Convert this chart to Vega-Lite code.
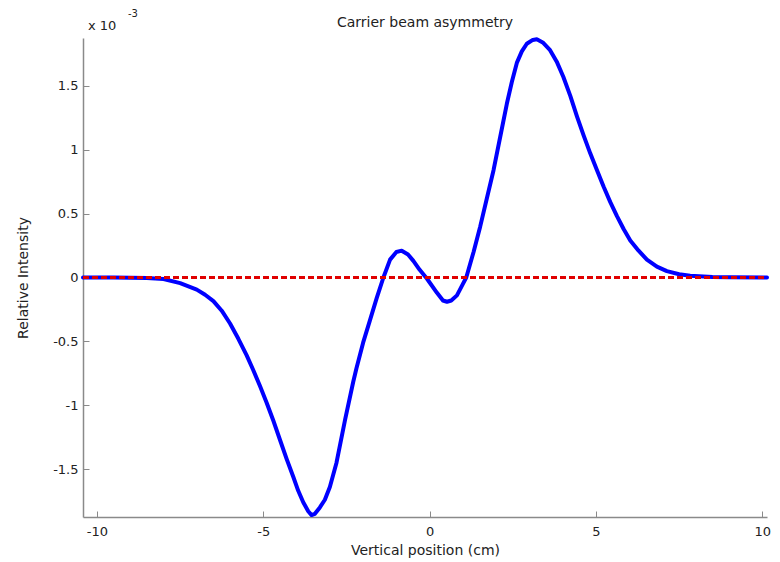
{
  "$schema": "https://vega.github.io/schema/vega-lite/v6.json",
  "width": 684,
  "height": 479,
  "autosize": {"type": "none"},
  "padding": {"left": 83, "top": 38, "right": 13, "bottom": 45},
  "background": "white",
  "config": {
    "view": {"stroke": null},
    "font": "DejaVu Sans",
    "axis": {
      "grid": false,
      "domainColor": "#8a8a8a",
      "domainWidth": 1.5,
      "tickColor": "#8a8a8a",
      "tickWidth": 1,
      "tickSize": -6,
      "labelFont": "DejaVu Sans",
      "labelFontSize": 13,
      "labelColor": "#222222",
      "titleFont": "DejaVu Sans",
      "titleFontSize": 14,
      "titleFontWeight": "normal",
      "titleColor": "#222222"
    }
  },
  "title": {
    "text": "Carrier beam asymmetry",
    "font": "DejaVu Sans",
    "fontSize": 14,
    "fontWeight": "normal",
    "color": "#222222",
    "anchor": "middle",
    "offset": -21
  },
  "datasets": {
    "signal": [
      {"x": -10.42, "y": 0}, {"x": -9.5, "y": 0}, {"x": -9.0, "y": -0.001}, {"x": -8.5, "y": -0.004},
      {"x": -8.0, "y": -0.012}, {"x": -7.5, "y": -0.044}, {"x": -7.0, "y": -0.095}, {"x": -6.75, "y": -0.135},
      {"x": -6.5, "y": -0.185}, {"x": -6.25, "y": -0.26}, {"x": -6.0, "y": -0.36}, {"x": -5.75, "y": -0.48},
      {"x": -5.5, "y": -0.61}, {"x": -5.31, "y": -0.72}, {"x": -5.1, "y": -0.85}, {"x": -4.9, "y": -0.98},
      {"x": -4.7, "y": -1.12}, {"x": -4.5, "y": -1.27}, {"x": -4.3, "y": -1.42}, {"x": -4.1, "y": -1.56},
      {"x": -3.95, "y": -1.67}, {"x": -3.8, "y": -1.76}, {"x": -3.65, "y": -1.83}, {"x": -3.55, "y": -1.86},
      {"x": -3.45, "y": -1.85}, {"x": -3.3, "y": -1.8}, {"x": -3.15, "y": -1.74}, {"x": -3.0, "y": -1.64},
      {"x": -2.8, "y": -1.45}, {"x": -2.54, "y": -1.11}, {"x": -2.3, "y": -0.82}, {"x": -2.2, "y": -0.71},
      {"x": -2.0, "y": -0.51}, {"x": -1.8, "y": -0.34}, {"x": -1.59, "y": -0.16}, {"x": -1.39, "y": 0},
      {"x": -1.19, "y": 0.14}, {"x": -1.0, "y": 0.2}, {"x": -0.84, "y": 0.21}, {"x": -0.65, "y": 0.18},
      {"x": -0.49, "y": 0.13}, {"x": -0.3, "y": 0.06}, {"x": -0.08, "y": -0.01}, {"x": 0.22, "y": -0.12},
      {"x": 0.4, "y": -0.18}, {"x": 0.52, "y": -0.19}, {"x": 0.65, "y": -0.18}, {"x": 0.82, "y": -0.14},
      {"x": 1.0, "y": -0.05}, {"x": 1.1, "y": 0.0}, {"x": 1.32, "y": 0.2}, {"x": 1.52, "y": 0.4},
      {"x": 1.72, "y": 0.62}, {"x": 1.92, "y": 0.84}, {"x": 2.12, "y": 1.1}, {"x": 2.32, "y": 1.36},
      {"x": 2.47, "y": 1.53}, {"x": 2.62, "y": 1.68}, {"x": 2.77, "y": 1.77}, {"x": 2.92, "y": 1.83},
      {"x": 3.1, "y": 1.86}, {"x": 3.22, "y": 1.865}, {"x": 3.4, "y": 1.84}, {"x": 3.62, "y": 1.78},
      {"x": 3.82, "y": 1.69}, {"x": 4.02, "y": 1.57}, {"x": 4.23, "y": 1.42}, {"x": 4.43, "y": 1.26},
      {"x": 4.63, "y": 1.11}, {"x": 4.83, "y": 0.97}, {"x": 5.03, "y": 0.84}, {"x": 5.23, "y": 0.71},
      {"x": 5.43, "y": 0.59}, {"x": 5.63, "y": 0.48}, {"x": 5.83, "y": 0.38}, {"x": 6.03, "y": 0.29},
      {"x": 6.28, "y": 0.21}, {"x": 6.53, "y": 0.14}, {"x": 6.83, "y": 0.085}, {"x": 7.13, "y": 0.05},
      {"x": 7.5, "y": 0.025}, {"x": 7.83, "y": 0.013}, {"x": 8.5, "y": 0.003}, {"x": 9.0, "y": 0.001},
      {"x": 10.14, "y": 0}
    ],
    "reference": [
      {"x": -10.42, "y": 0}, {"x": 10.14, "y": 0}
    ],
    "scale_note": [
      {"x": -10.42, "y": 1.875, "base": "x 10", "exp": "-3"}
    ]
  },
  "layer": [
    {
      "data": {"name": "signal"},
      "mark": {"type": "line", "color": "#0000ff", "strokeWidth": 4, "strokeJoin": "round", "strokeCap": "round"},
      "encoding": {
        "x": {
          "field": "x", "type": "quantitative",
          "scale": {"domain": [-10.42, 10.14], "nice": false, "zero": false},
          "axis": {
            "values": [-10, -5, 0, 5, 10],
            "labelExpr": "'' + datum.value",
            "labelPadding": 14,
            "title": "Vertical position (cm)",
            "titlePadding": 5
          }
        },
        "y": {
          "field": "y", "type": "quantitative",
          "scale": {"domain": [-1.875, 1.875], "nice": false, "zero": false},
          "axis": {
            "values": [-1.5, -1, -0.5, 0, 0.5, 1, 1.5],
            "labelExpr": "'' + datum.value",
            "labelPadding": 11,
            "title": "Relative Intensity",
            "titlePadding": 22
          }
        }
      }
    },
    {
      "data": {"name": "reference"},
      "mark": {"type": "line", "color": "#e00000", "strokeWidth": 3, "strokeDash": [6, 3]},
      "encoding": {
        "x": {"field": "x", "type": "quantitative"},
        "y": {"field": "y", "type": "quantitative"}
      }
    },
    {
      "data": {"name": "scale_note"},
      "mark": {"type": "text", "align": "left", "baseline": "bottom", "dx": 5, "dy": -5, "fontSize": 13, "color": "#222222", "font": "DejaVu Sans"},
      "encoding": {
        "x": {"field": "x", "type": "quantitative"},
        "y": {"field": "y", "type": "quantitative"},
        "text": {"field": "base"}
      }
    },
    {
      "data": {"name": "scale_note"},
      "mark": {"type": "text", "align": "left", "baseline": "bottom", "dx": 45, "dy": -19, "fontSize": 10, "color": "#222222", "font": "DejaVu Sans"},
      "encoding": {
        "x": {"field": "x", "type": "quantitative"},
        "y": {"field": "y", "type": "quantitative"},
        "text": {"field": "exp"}
      }
    }
  ]
}
